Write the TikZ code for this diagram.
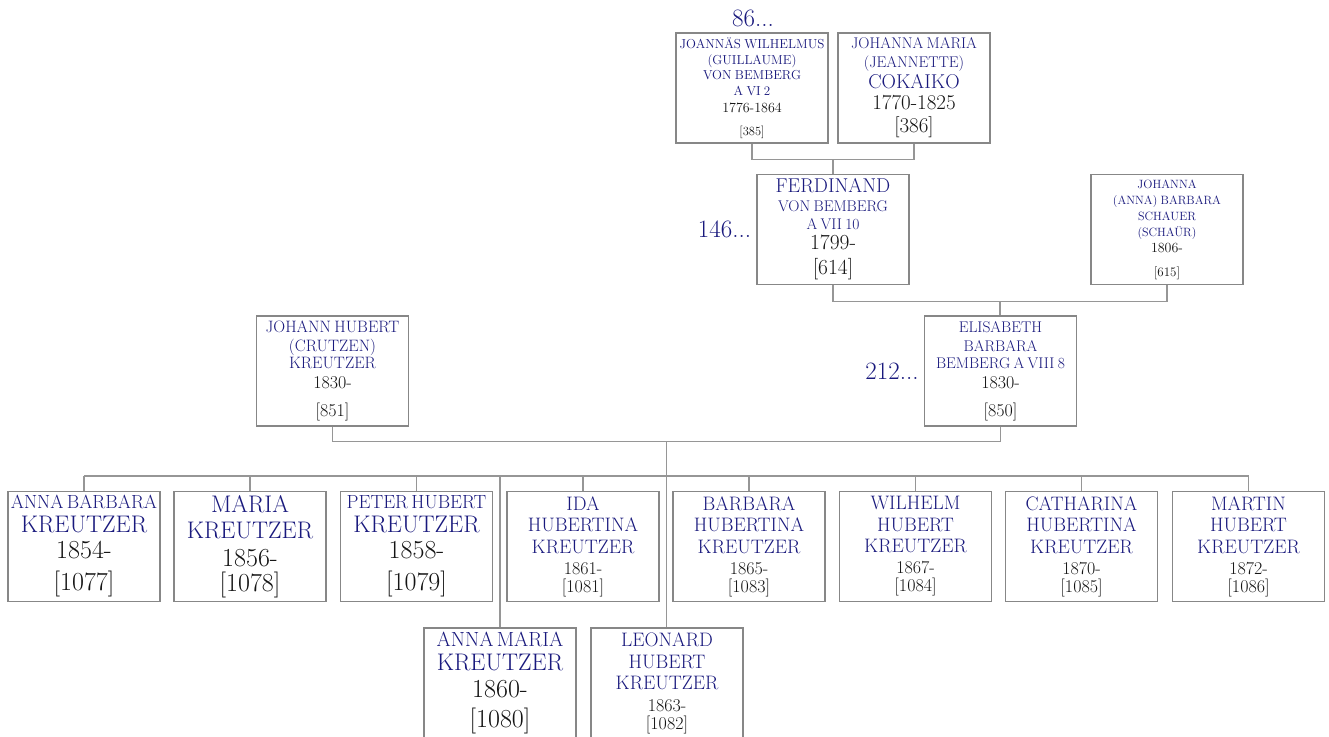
\documentclass[tikz,border=0pt]{standalone}
\usepackage{tikz}
\usetikzlibrary{calc}
\usepackage{xcolor}
\definecolor{nameblue}{RGB}{25,25,125}
\definecolor{datedark}{RGB}{20,20,20}
\definecolor{boxgrey}{RGB}{135,135,135}
\definecolor{linkgrey}{RGB}{150,150,150}
\newcommand{\pname}[3]{{\color{nameblue}\fontsize{#1}{#2}\selectfont #3\par}}
\newcommand{\pdate}[3]{{\color{datedark}\fontsize{#1}{#2}\selectfont #3\par}}

\begin{document}
\begin{tikzpicture}[x=1pt, y=-1pt,
    person/.style={draw=boxgrey, line width=1.4pt, fill=white, text width=148pt, inner xsep=2pt, inner ysep=0pt, minimum height=110pt, align=center},
    link/.style={draw=linkgrey, line width=1.4pt},
    more/.style={text=nameblue, inner sep=1pt, font=\fontsize{25}{27}\selectfont}]
\useasboundingbox (0,0) rectangle (1329,736);
% grandparents
\node[person] (jwvb) at (752,88) {\pname{13}{15}{JOANNÄS WILHELMUS}\pname{13}{15.5}{(GUILLAUME)}\pname{13}{15.5}{VON BEMBERG}\pname{13}{15.5}{A VI 2}\pdate{14}{17}{1776-1864}\pdate{12.5}{23}{[385]}};
\node[person] (jmc) at (914,88) {\pname{15.5}{19}{JOHANNA MARIA}\pname{15.5}{19}{(JEANNETTE)}\pname{20}{21}{COKAIKO}\pdate{21}{21}{1770-1825}\pdate{21}{23}{[386]}};
\node[more, anchor=base] (more86) at (753,27) {86...};
% parents of the mother
\node[person] (fvb) at (833,229.5) {\pname{20}{19}{FERDINAND}\pname{15.5}{19}{VON BEMBERG}\pname{15.5}{18}{A VII 10}\pdate{21.5}{20}{1799-}\pdate{21.5}{25}{[614]}};
\node[person] (jabs) at (1167,229.5) {\pname{12}{16}{JOHANNA}\pname{12}{16}{(ANNA) BARBARA}\pname{12}{16}{SCHAUER}\pname{12}{16}{(SCHAÜR)}\pdate{14}{16}{1806-}\pdate{13}{24}{[615]}};
\node[more, anchor=east] (more146) at ([xshift=-4pt]fvb.west) {146...};
% parents
\node[person] (jhck) at (332.5,371) {\pname{16.5}{19}{JOHANN HUBERT}\pname{16.5}{19}{(CRUTZEN)}\pname{16.5}{17}{KREUTZER}\pdate{18}{20}{1830-}\pdate{18}{28}{[851]}};
\node[person] (ebb) at (1000.5,371) {\pname{15.5}{19}{ELISABETH}\pname{15.5}{19}{BARBARA}\pname{15.5}{17}{BEMBERG A VIII 8}\pdate{18}{20}{1830-}\pdate{18}{28}{[850]}};
\node[more, anchor=east] (more212) at ([xshift=-4pt]ebb.west) {212...};
% children
\node[person] (c1) at (84,546.5) {\pname{19}{24}{ANNA BARBARA}\pname{24}{24}{KREUTZER}\pdate{26}{26}{1854-}\pdate{26}{32}{[1077]}};
\node[person] (c2) at (250,546.5) {\pname{24}{26}{MARIA}\pname{24}{26}{KREUTZER}\pdate{26}{28}{1856-}\pdate{26}{25}{[1078]}};
\node[person] (c3) at (416.5,546.5) {\pname{19}{24}{PETER HUBERT}\pname{24}{24}{KREUTZER}\pdate{26}{26}{1858-}\pdate{26}{32}{[1079]}};
\node[person] (c4) at (583,546.5) {\pname{19.5}{21.5}{IDA}\pname{19.5}{21.5}{HUBERTINA}\pname{19.5}{21.5}{KREUTZER}\pdate{18}{21}{1861-}\pdate{18}{18}{[1081]}};
\node[person] (c5) at (749,546.5) {\pname{19.5}{21.5}{BARBARA}\pname{19.5}{21.5}{HUBERTINA}\pname{19.5}{21.5}{KREUTZER}\pdate{18}{21}{1865-}\pdate{18}{18}{[1083]}};
\node[person] (c6) at (915.5,546.5) {\pname{19.5}{21.5}{WILHELM}\pname{19.5}{21.5}{HUBERT}\pname{19.5}{21.5}{KREUTZER}\pdate{18}{21}{1867-}\pdate{18}{18}{[1084]}};
\node[person] (c7) at (1081.5,546.5) {\pname{19.5}{21.5}{CATHARINA}\pname{19.5}{21.5}{HUBERTINA}\pname{19.5}{21.5}{KREUTZER}\pdate{18}{21}{1870-}\pdate{18}{18}{[1085]}};
\node[person] (c8) at (1248.5,546.5) {\pname{19.5}{21.5}{MARTIN}\pname{19.5}{21.5}{HUBERT}\pname{19.5}{21.5}{KREUTZER}\pdate{18}{21}{1872-}\pdate{18}{18}{[1086]}};
\node[person] (c9) at (500,683) {\pname{20.5}{24}{ANNA MARIA}\pname{24}{24}{KREUTZER}\pdate{26}{27}{1860-}\pdate{26}{30}{[1080]}};
\node[person] (c10) at (667,683) {\pname{19.5}{22}{LEONARD}\pname{19.5}{22}{HUBERT}\pname{19.5}{21}{KREUTZER}\pdate{18}{22}{1863-}\pdate{18}{18}{[1082]}};
% couples and descent lines
\draw[link] (jwvb.south) -- ++(0,16) -| (jmc.south);
\coordinate (m1) at ($(jwvb.south)!.5!(jmc.south)+(0,16)$);
\draw[link] (m1) -- (m1 |- fvb.north);
\draw[link] (fvb.south) -- ++(0,16) -| (jabs.south);
\coordinate (m2) at ($(fvb.south)!.5!(jabs.south)+(0,16)$);
\draw[link] (m2) -- (m2 |- ebb.north);
\draw[link] (jhck.south) -- ++(0,15) -| (ebb.south);
\coordinate (m3) at ($(jhck.south)!.5!(ebb.south)+(0,15)$);
\draw[link] (m3) -- (m3 |- c10.north);
\coordinate (sib) at (0,476);
\draw[link] (c1.north |- sib) -- (c8.north |- sib);
\foreach \k in {c1,c2,c3,c4,c5,c6,c7,c8,c9}
    \draw[link] (\k.north) -- (\k.north |- sib);
\end{tikzpicture}
\end{document}
